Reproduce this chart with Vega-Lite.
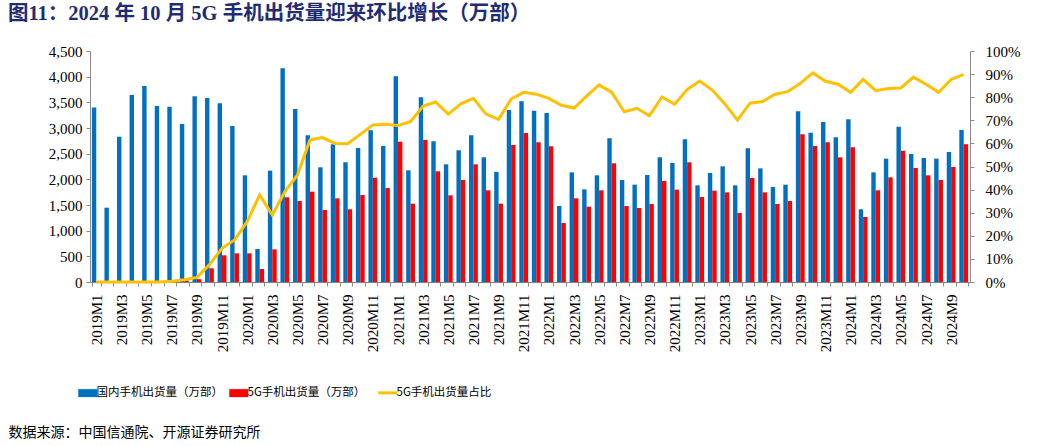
{
  "$schema": "https://vega.github.io/schema/vega-lite/v6.json",
  "autosize": {"type": "none"},
  "width": 880,
  "height": 231,
  "padding": {"left": 90, "top": 51, "right": 87, "bottom": 164},
  "background": "white",
  "title": {
    "text": "图11：2024 年 10 月 5G 手机出货量迎来环比增长（万部）",
    "anchor": "start",
    "frame": "group",
    "dx": -82,
    "offset": 20,
    "font": "Liberation Serif, Noto Sans CJK SC",
    "fontSize": 20.5,
    "fontWeight": "bold",
    "color": "#1F2C73"
  },
  "config": {
    "view": {"stroke": null},
    "axis": {
      "labelFont": "Liberation Serif",
      "labelFontSize": 15,
      "labelColor": "#000000",
      "domainColor": "#8c8c8c",
      "tickColor": "#8c8c8c",
      "grid": false
    }
  },
  "data": {
    "values": [
      {"month": "2019M1", "total": 3400, "g5": 0, "ratio": 0},
      {"month": "2019M2", "total": 1448, "g5": 0, "ratio": 0},
      {"month": "2019M3", "total": 2831, "g5": 0, "ratio": 0},
      {"month": "2019M4", "total": 3643, "g5": 0, "ratio": 0},
      {"month": "2019M5", "total": 3818, "g5": 0, "ratio": 0},
      {"month": "2019M6", "total": 3429, "g5": 0, "ratio": 0},
      {"month": "2019M7", "total": 3416, "g5": 10, "ratio": 0.003},
      {"month": "2019M8", "total": 3078, "g5": 30, "ratio": 0.010},
      {"month": "2019M9", "total": 3617, "g5": 55, "ratio": 0.020},
      {"month": "2019M10", "total": 3584, "g5": 267, "ratio": 0.075},
      {"month": "2019M11", "total": 3480, "g5": 520, "ratio": 0.146},
      {"month": "2019M12", "total": 3039, "g5": 559, "ratio": 0.182},
      {"month": "2020M1", "total": 2078, "g5": 559, "ratio": 0.261},
      {"month": "2020M2", "total": 643, "g5": 253, "ratio": 0.377},
      {"month": "2020M3", "total": 2169, "g5": 636, "ratio": 0.290},
      {"month": "2020M4", "total": 4163, "g5": 1650, "ratio": 0.391},
      {"month": "2020M5", "total": 3370, "g5": 1578, "ratio": 0.463},
      {"month": "2020M6", "total": 2857, "g5": 1760, "ratio": 0.615},
      {"month": "2020M7", "total": 2234, "g5": 1403, "ratio": 0.625},
      {"month": "2020M8", "total": 2682, "g5": 1630, "ratio": 0.600},
      {"month": "2020M9", "total": 2331, "g5": 1416, "ratio": 0.599},
      {"month": "2020M10", "total": 2610, "g5": 1695, "ratio": 0.639},
      {"month": "2020M11", "total": 2955, "g5": 2032, "ratio": 0.680},
      {"month": "2020M12", "total": 2649, "g5": 1831, "ratio": 0.683},
      {"month": "2021M1", "total": 4007, "g5": 2734, "ratio": 0.678},
      {"month": "2021M2", "total": 2175, "g5": 1526, "ratio": 0.694},
      {"month": "2021M3", "total": 3597, "g5": 2766, "ratio": 0.762},
      {"month": "2021M4", "total": 2740, "g5": 2156, "ratio": 0.779},
      {"month": "2021M5", "total": 2292, "g5": 1688, "ratio": 0.727},
      {"month": "2021M6", "total": 2566, "g5": 1987, "ratio": 0.771},
      {"month": "2021M7", "total": 2857, "g5": 2292, "ratio": 0.795},
      {"month": "2021M8", "total": 2429, "g5": 1786, "ratio": 0.727},
      {"month": "2021M9", "total": 2143, "g5": 1526, "ratio": 0.704},
      {"month": "2021M10", "total": 3351, "g5": 2669, "ratio": 0.792},
      {"month": "2021M11", "total": 3519, "g5": 2903, "ratio": 0.821},
      {"month": "2021M12", "total": 3337, "g5": 2724, "ratio": 0.813},
      {"month": "2022M1", "total": 3292, "g5": 2643, "ratio": 0.795},
      {"month": "2022M2", "total": 1481, "g5": 1149, "ratio": 0.765},
      {"month": "2022M3", "total": 2136, "g5": 1630, "ratio": 0.753},
      {"month": "2022M4", "total": 1805, "g5": 1467, "ratio": 0.805},
      {"month": "2022M5", "total": 2078, "g5": 1786, "ratio": 0.853},
      {"month": "2022M6", "total": 2799, "g5": 2312, "ratio": 0.821},
      {"month": "2022M7", "total": 1987, "g5": 1481, "ratio": 0.737},
      {"month": "2022M8", "total": 1896, "g5": 1442, "ratio": 0.752},
      {"month": "2022M9", "total": 2084, "g5": 1519, "ratio": 0.720},
      {"month": "2022M10", "total": 2429, "g5": 1968, "ratio": 0.801},
      {"month": "2022M11", "total": 2318, "g5": 1799, "ratio": 0.769},
      {"month": "2022M12", "total": 2779, "g5": 2331, "ratio": 0.833},
      {"month": "2023M1", "total": 1883, "g5": 1656, "ratio": 0.870},
      {"month": "2023M2", "total": 2123, "g5": 1779, "ratio": 0.831},
      {"month": "2023M3", "total": 2253, "g5": 1746, "ratio": 0.771},
      {"month": "2023M4", "total": 1883, "g5": 1344, "ratio": 0.701},
      {"month": "2023M5", "total": 2604, "g5": 2026, "ratio": 0.774},
      {"month": "2023M6", "total": 2214, "g5": 1746, "ratio": 0.781},
      {"month": "2023M7", "total": 1851, "g5": 1519, "ratio": 0.813},
      {"month": "2023M8", "total": 1896, "g5": 1578, "ratio": 0.824},
      {"month": "2023M9", "total": 3325, "g5": 2877, "ratio": 0.860},
      {"month": "2023M10", "total": 2909, "g5": 2649, "ratio": 0.905},
      {"month": "2023M11", "total": 3117, "g5": 2721, "ratio": 0.869},
      {"month": "2023M12", "total": 2818, "g5": 2429, "ratio": 0.856},
      {"month": "2024M1", "total": 3169, "g5": 2623, "ratio": 0.821},
      {"month": "2024M2", "total": 1416, "g5": 1266, "ratio": 0.877},
      {"month": "2024M3", "total": 2136, "g5": 1786, "ratio": 0.828},
      {"month": "2024M4", "total": 2403, "g5": 2039, "ratio": 0.838},
      {"month": "2024M5", "total": 3026, "g5": 2558, "ratio": 0.840},
      {"month": "2024M6", "total": 2494, "g5": 2221, "ratio": 0.887},
      {"month": "2024M7", "total": 2416, "g5": 2078, "ratio": 0.856},
      {"month": "2024M8", "total": 2403, "g5": 1987, "ratio": 0.821},
      {"month": "2024M9", "total": 2532, "g5": 2240, "ratio": 0.877},
      {"month": "2024M10", "total": 2961, "g5": 2682, "ratio": 0.899}
    ]
  },
  "encoding": {
    "x": {
      "field": "month",
      "type": "nominal",
      "sort": null,
      "scale": {"paddingInner": 0.3, "paddingOuter": 0.15},
      "axis": {
        "title": "数据来源：中国信通院、开源证券研究所",
        "titleFont": "Noto Sans CJK SC",
        "titleFontSize": 14,
        "titleFontWeight": "normal",
        "titleColor": "#000000",
        "titleAnchor": "start",
        "titleAlign": "left",
        "titleBaseline": "middle",
        "titleX": -82,
        "titleY": 150,
        "labelAngle": 270,
        "labelAlign": "right",
        "labelBaseline": "middle",
        "labelPadding": 8,
        "labelOverlap": false,
        "labelExpr": "parseInt(split(datum.value, 'M')[1]) % 2 == 1 ? datum.value : ''",
        "tickSize": 4,
        "tickBand": "extent",
        "domainColor": "#7f7f7f"
      }
    }
  },
  "layer": [
    {
      "transform": [{"fold": ["total", "g5"], "as": ["series", "value"]}],
      "mark": {"type": "bar"},
      "encoding": {
        "xOffset": {"field": "series", "type": "nominal", "scale": {"domain": ["total", "g5"], "paddingInner": 0}},
        "y": {
          "field": "value",
          "type": "quantitative",
          "scale": {"domain": [0, 4500]},
          "axis": {
            "title": null,
            "values": [0, 500, 1000, 1500, 2000, 2500, 3000, 3500, 4000, 4500],
            "format": ",.0f",
            "tickSize": 4,
            "labelPadding": 4
          }
        },
        "color": {
          "field": "series",
          "type": "nominal",
          "scale": {"domain": ["total", "g5", "ratio"], "range": ["#0070C0", "#FF0000", "#FFC000"]},
          "legend": {
            "orient": "none",
            "legendX": -8,
            "legendY": 336,
            "direction": "horizontal",
            "title": null,
            "padding": 0,
            "labelFont": "Noto Sans CJK SC",
            "labelFontSize": 11.5,
            "labelColor": "#000000",
            "labelOffset": 3,
            "labelLimit": 300,
            "columnPadding": 6,
            "symbolSize": 361,
            "labelExpr": "datum.label == 'total' ? '国内手机出货量（万部）' : datum.label == 'g5' ? '5G手机出货量（万部）' : '5G手机出货量占比'",
            "encode": {
              "symbols": {
                "update": {
                  "shape": {"signal": "datum.value === 'ratio' ? 'stroke' : 'M-1,-0.42H1V0.42H-1Z'"},
                  "fill": {"signal": "datum.value === 'ratio' ? 'transparent' : scale('color', datum.value)"},
                  "stroke": {"signal": "scale('color', datum.value)"},
                  "strokeWidth": {"signal": "datum.value === 'ratio' ? 3 : 0"},
                  "opacity": {"value": 1}
                }
              }
            }
          }
        }
      }
    },
    {
      "mark": {"type": "line", "strokeWidth": 3},
      "encoding": {
        "y": {
          "field": "ratio",
          "type": "quantitative",
          "scale": {"domain": [0, 1]},
          "axis": {
            "title": null,
            "orient": "right",
            "values": [0, 0.1, 0.2, 0.3, 0.4, 0.5, 0.6, 0.7, 0.8, 0.9, 1],
            "format": ".0%",
            "tickSize": 4,
            "labelPadding": 11
          }
        },
        "color": {"datum": "ratio"}
      }
    }
  ],
  "resolve": {"scale": {"y": "independent"}}
}
